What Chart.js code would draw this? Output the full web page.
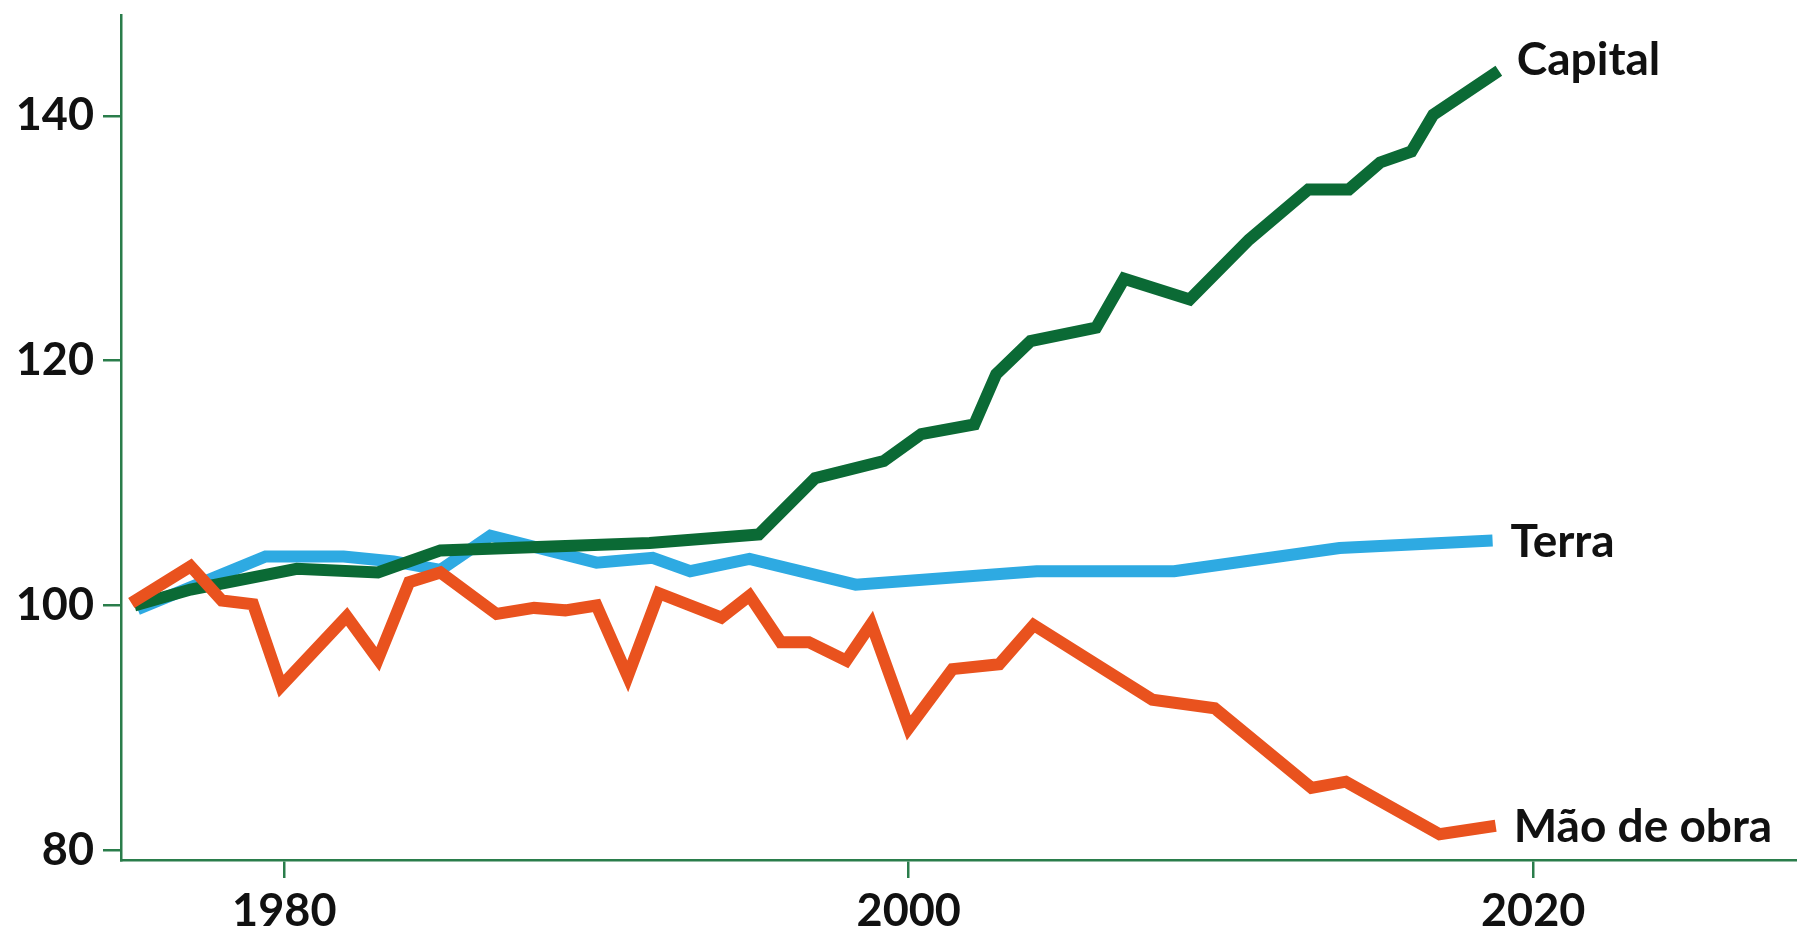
<!DOCTYPE html>
<html>
<head>
<meta charset="utf-8">
<script src="https://cdn.jsdelivr.net/npm/chart.js@4/dist/chart.umd.min.js"></script>
<style>
  html, body { margin: 0; padding: 0; background: #fff; }
  #wrap { width: 1797px; height: 930px; }
</style>
</head>
<body>
<div id="wrap"><canvas id="chart" width="1797" height="930"></canvas></div>
<script>
// ---- data (index, start = 100) ----
const capitalYears  = [1975.2, 1977, 1980.4, 1983, 1985, 1991.7, 1995.2, 1997, 1999.2, 2000.4, 2002.1, 2002.8, 2003.9, 2006, 2006.9, 2009, 2010.9, 2012.8, 2014.1, 2015.1, 2016.1, 2016.8, 2018.9];
const capitalValues = [100.0, 101.3, 103.0, 102.7, 104.5, 105.1, 105.8, 110.4, 111.8, 114.0, 114.8, 118.9, 121.6, 122.7, 126.7, 125.0, 129.9, 134.0, 134.0, 136.2, 137.1, 140.1, 143.7];

const landYears  = [1975.3, 1979.4, 1981.9, 1983.5, 1985, 1986.6, 1990, 1991.8, 1993, 1994.9, 1998.3, 2004.1, 2008.5, 2013.8, 2018.7];
const landValues = [99.7, 104.0, 104.0, 103.6, 102.9, 105.7, 103.5, 103.9, 102.8, 103.8, 101.7, 102.8, 102.8, 104.7, 105.3];

const laborYears  = [1975.1, 1977, 1978, 1979, 1979.9, 1982, 1983, 1984, 1985, 1986.8, 1988, 1989, 1990, 1991, 1992, 1994, 1994.9, 1995.9, 1996.8, 1998, 1998.8, 2000, 2001.4, 2002.9, 2004, 2007.8, 2009.8, 2012.9, 2014, 2017, 2018.8];
const laborValues = [100.2, 103.2, 100.4, 100.1, 93.4, 99.1, 95.6, 101.9, 102.7, 99.3, 99.8, 99.6, 100.0, 94.2, 101.0, 99.0, 100.8, 97.0, 97.0, 95.5, 98.5, 90.0, 94.8, 95.2, 98.4, 92.3, 91.6, 85.1, 85.6, 81.3, 82.0];

const seriesNames = ['Mão de obra', 'Capital', 'Terra'];
const xTicks = [1980, 2000, 2020];
const yTicks = [80, 100, 120, 140];

const AXIS_GREEN = '#2a7d4b';
const TEXT = '#111111';
const FONT = 'Lato, "Open Sans", sans-serif';

const toPoints = (xs, ys) => xs.map((x, i) => ({ x: x, y: ys[i] }));

// line-end labels, vertical nudge per series
const labelNudge = { 'Capital': 4, 'Terra': 16, 'Mão de obra': 16 };
const endLabels = {
    id: 'endLabels',
    afterDatasetsDraw(chart) {
        const ctx = chart.ctx;
        ctx.save();
        ctx.font = 'bold 46px ' + FONT;
        ctx.fillStyle = TEXT;
        ctx.textAlign = 'left';
        ctx.textBaseline = 'alphabetic';
        chart.data.datasets.forEach((ds, i) => {
            const pts = chart.getDatasetMeta(i).data;
            const last = pts[pts.length - 1];
            ctx.fillText(ds.label, last.x + 18, last.y + (labelNudge[ds.label] || 0));
        });
        ctx.restore();
    }
};

const lineStyle = (color) => ({
    borderColor: color,
    backgroundColor: color,
    borderWidth: 12,
    pointRadius: 0,
    tension: 0,
    fill: false,
    borderJoinStyle: 'miter',
    borderCapStyle: 'butt'
});

// no extra half-label padding around the plot
const noLabelPadding = (scale) => {
    scale.paddingTop = 0; scale.paddingBottom = 0;
    scale.paddingLeft = 0; scale.paddingRight = 0;
};

new Chart(document.getElementById('chart'), {
    type: 'line',
    data: {
        datasets: [
            Object.assign({ label: seriesNames[0], data: toPoints(laborYears, laborValues) }, lineStyle('#e9521e')),
            Object.assign({ label: seriesNames[1], data: toPoints(capitalYears, capitalValues) }, lineStyle('#0b6a35')),
            Object.assign({ label: seriesNames[2], data: toPoints(landYears, landValues) }, lineStyle('#2eaae2'))
        ]
    },
    options: {
        responsive: false,
        animation: false,
        devicePixelRatio: 1,
        layout: { padding: { top: 15, right: 0, left: 0, bottom: 0 } },
        plugins: { legend: { display: false }, tooltip: { enabled: false } },
        scales: {
            x: {
                type: 'linear',
                min: 1974.77,
                max: 2028.45,
                afterBuildTicks: (scale) => { scale.ticks = xTicks.map(v => ({ value: v })); },
                afterFit: (scale) => { scale.height = 70; noLabelPadding(scale); },
                border: { color: AXIS_GREEN, width: 2.5 },
                grid: { drawOnChartArea: false, drawTicks: true, tickLength: 18, color: AXIS_GREEN, lineWidth: 2.5 },
                ticks: {
                    color: TEXT,
                    font: { family: FONT, size: 45, weight: 'bold' },
                    padding: 6,
                    maxRotation: 0,
                    callback: (v) => String(v)
                }
            },
            y: {
                min: 79.2,
                max: 148.25,
                afterBuildTicks: (scale) => { scale.ticks = yTicks.map(v => ({ value: v })); },
                afterFit: (scale) => { scale.width = 121; noLabelPadding(scale); },
                border: { color: AXIS_GREEN, width: 2.5 },
                grid: { drawOnChartArea: false, drawTicks: true, tickLength: 18, color: AXIS_GREEN, lineWidth: 2.5 },
                ticks: {
                    color: TEXT,
                    font: { family: FONT, size: 45, weight: 'bold' },
                    padding: 9,
                    callback: (v) => String(v)
                }
            }
        }
    },
    plugins: [endLabels]
});
</script>
</body>
</html>
